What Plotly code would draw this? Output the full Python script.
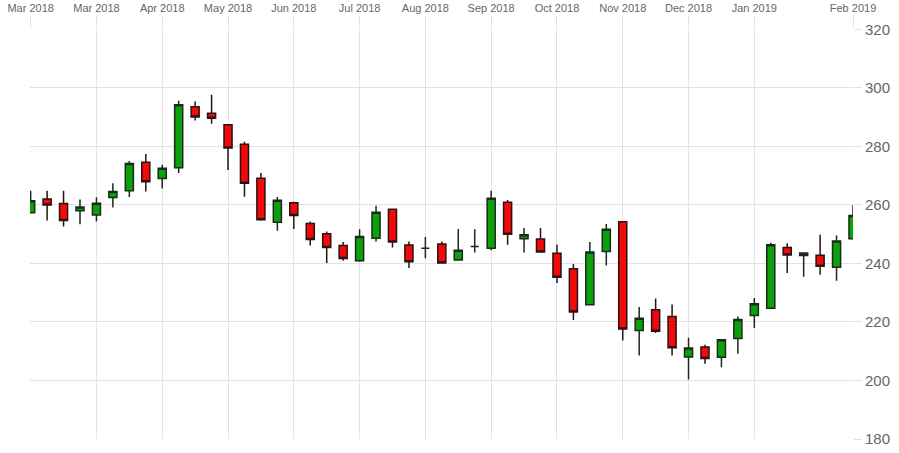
import plotly.graph_objects as go
import pandas as pd

# Weekly candles, Mar 2018 - Feb 2019
weeks = [d.strftime("%Y-%m-%d") for d in pd.date_range("2018-03-01", periods=51, freq="7D")]

open_ = [257.3, 262.0, 260.5, 258.0, 256.5, 262.5, 264.8, 274.6, 269.0, 272.7,
         293.5, 291.3, 287.4, 280.7, 269.1, 254.1, 260.7, 253.6, 250.1, 246.1,
         240.9, 248.6, 258.5, 246.3, 245.2, 246.6, 241.2, 245.8, 245.2, 260.9,
         248.4, 248.3, 243.5, 238.2, 225.9, 244.1, 254.2, 217.1, 224.2, 221.9,
         208.0, 211.4, 207.9, 214.3, 222.2, 224.7, 245.4, 242.7, 242.8, 238.7,
         248.4]
high_ = [264.8, 264.8, 264.8, 261.8, 262.6, 267.4, 275.0, 277.4, 273.7, 295.6,
         295.3, 297.6, 287.6, 281.6, 270.9, 262.7, 261.1, 254.3, 250.9, 247.3,
         251.7, 259.7, 258.7, 247.5, 249.0, 247.5, 251.8, 251.7, 264.8, 261.7,
         252.1, 252.1, 246.4, 239.8, 247.3, 253.5, 254.2, 225.1, 228.0, 226.0,
         214.6, 212.2, 214.0, 221.9, 228.2, 247.1, 246.9, 243.7, 249.8, 249.5,
         260.0]
low_ = [257.3, 254.7, 252.6, 253.4, 254.3, 259.1, 262.7, 264.6, 265.6, 270.9,
        288.8, 287.7, 271.9, 262.8, 254.6, 251.2, 251.8, 246.1, 240.1, 240.9,
        240.6, 247.5, 245.4, 238.4, 241.8, 240.0, 241.0, 243.7, 244.5, 246.4,
        243.7, 243.8, 233.3, 220.7, 225.9, 239.3, 213.7, 208.5, 216.2, 208.5,
        200.3, 205.7, 204.5, 209.1, 217.9, 224.7, 236.7, 235.4, 236.1, 234.1,
        248.4]
close_ = [261.4, 260.0, 254.7, 259.3, 260.6, 264.6, 274.1, 267.9, 272.5, 294.2,
          290.0, 289.6, 279.4, 267.4, 254.9, 261.6, 256.4, 248.2, 245.4, 241.7,
          249.2, 257.5, 247.3, 240.6, 245.2, 240.1, 244.5, 245.8, 262.3, 250.0,
          249.8, 243.9, 235.3, 223.4, 243.9, 251.7, 217.6, 221.3, 216.8, 211.2,
          211.1, 207.5, 213.9, 220.8, 226.2, 246.4, 242.9, 243.6, 239.0, 247.7,
          256.4]

tick_idx = [0, 4, 8, 12, 16, 20, 24, 28, 32, 36, 40, 44, 50]
tick_labels = ["Mar 2018", "Mar 2018", "Apr 2018", "May 2018", "Jun 2018", "Jul 2018",
               "Aug 2018", "Sep 2018", "Oct 2018", "Nov 2018", "Dec 2018", "Jan 2019",
               "Feb 2019"]
y_ticks = [180, 200, 220, 240, 260, 280, 300, 320]

fig = go.Figure(go.Candlestick(
    x=weeks, open=open_, high=high_, low=low_, close=close_,
    increasing=dict(fillcolor="#0ba10b", line=dict(color="#1a2a1a", width=1.5)),
    decreasing=dict(fillcolor="#f20a0a", line=dict(color="#2a1212", width=1.5)),
    whiskerwidth=0,
    hoverinfo="x+y",
))

grid = "#e3e3e3"
fig.update_layout(
    width=899, height=453,
    margin=dict(l=30, r=46, t=29, b=14),
    paper_bgcolor="white", plot_bgcolor="white",
    showlegend=False,
    boxgap=0.3,
    font=dict(family="Arial, Liberation Sans, sans-serif", color="#666666"),
    xaxis=dict(
        type="category", side="top", automargin=False,
        range=[-0.04, len(weeks) - 1],
        tickmode="array",
        tickvals=[weeks[i] for i in tick_idx],
        ticktext=tick_labels,
        ticks="outside", ticklen=12, tickcolor=grid, tickwidth=1,
        showgrid=True, gridcolor=grid, gridwidth=1,
        showline=False, zeroline=False,
        tickfont=dict(size=11, color="#666666"),
        rangeslider=dict(visible=False),
    ),
    yaxis=dict(
        side="right", range=[180, 320.1], automargin=False,
        tickvals=y_ticks,
        ticks="outside", ticklen=8, tickcolor=grid, tickwidth=1,
        showgrid=True, gridcolor=grid, gridwidth=1,
        showline=False, zeroline=False,
        tickfont=dict(size=15, color="#666666"),
    ),
)

fig.write_html("out.html")
